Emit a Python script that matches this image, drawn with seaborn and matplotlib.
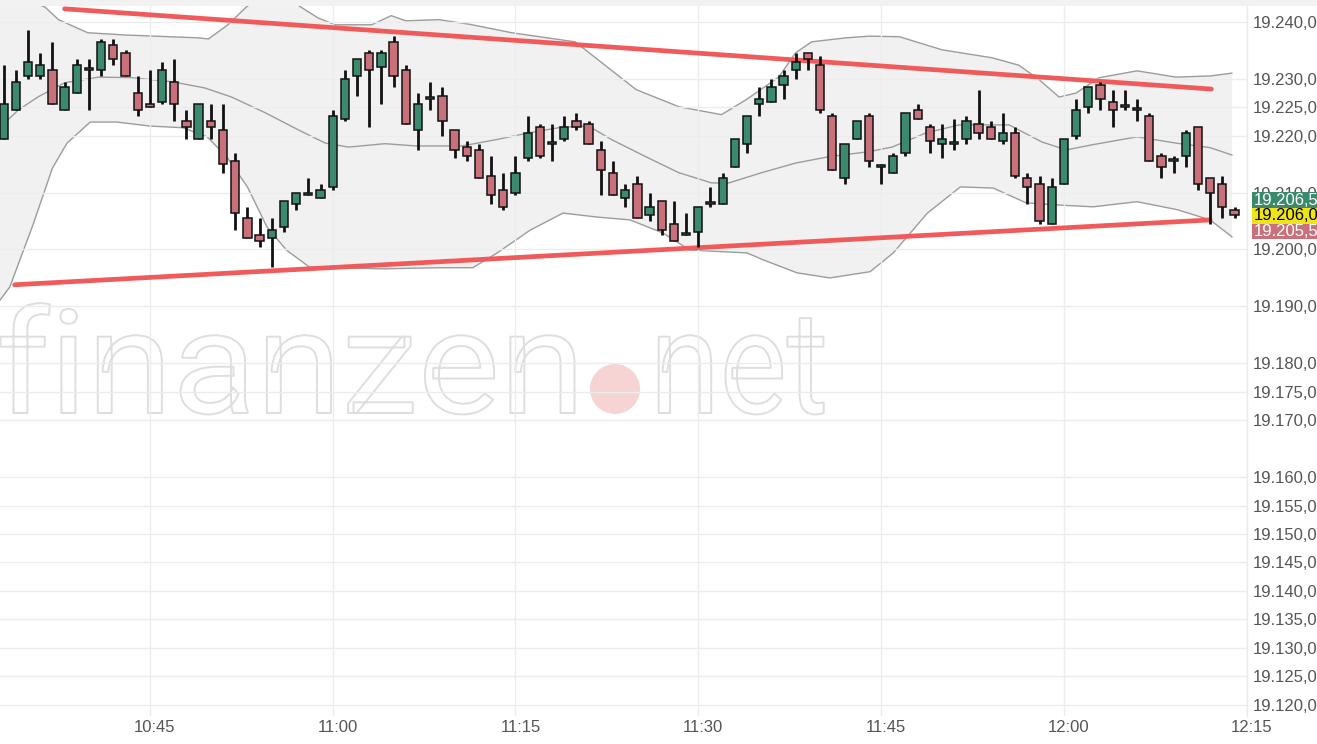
import numpy as np
import matplotlib
matplotlib.use("Agg")
import matplotlib.pyplot as plt
import matplotlib.patheffects as pe
import matplotlib.transforms as mtransforms
from matplotlib.patches import Rectangle, Ellipse
import seaborn as sns

sns.set_theme(style="white")
plt.rcParams["font.family"] = ["Liberation Sans", "DejaVu Sans"]

# 1-minute candles, first bar 10:33, x = minutes after 10:00
FIRST_MINUTE = 33
OPEN = [19219.5, 19224.5, 19230.5, 19230.5, 19231.5, 19224.5, 19227.5, 19231.5, 19231.5, 19236.0,
        19234.5, 19227.5, 19225.5, 19226.0, 19229.5, 19222.5, 19219.5, 19222.5, 19221.0, 19215.5,
        19205.5, 19202.5, 19202.0, 19204.0, 19208.0, 19209.5, 19209.0, 19211.0, 19223.0, 19230.5,
        19234.5, 19232.0, 19236.5, 19231.5, 19221.0, 19226.5, 19227.0, 19221.0, 19218.0, 19217.5,
        19213.0, 19210.5, 19210.0, 19216.0, 19221.5, 19218.5, 19219.5, 19222.5, 19222.0, 19217.5,
        19213.5, 19209.0, 19211.5, 19206.0, 19208.5, 19204.5, 19202.5, 19203.0, 19208.0, 19208.0,
        19214.5, 19218.5, 19225.5, 19226.0, 19229.0, 19231.5, 19234.5, 19232.5, 19223.5, 19212.5,
        19219.5, 19223.5, 19214.5, 19213.5, 19217.0, 19224.5, 19221.5, 19218.5, 19218.5, 19219.5,
        19222.0, 19221.5, 19219.0, 19220.5, 19212.5, 19211.5, 19204.5, 19211.5, 19220.0, 19225.0,
        19229.0, 19226.0, 19225.0, 19224.5, 19223.5, 19216.5, 19215.5, 19216.5, 19221.5, 19212.5,
        19211.5, 19207.0]
HIGH = [19232.5, 19231.5, 19238.5, 19234.5, 19236.5, 19229.5, 19233.5, 19233.5, 19237.0, 19237.0,
        19235.0, 19230.5, 19231.5, 19233.0, 19233.5, 19224.5, 19225.5, 19225.5, 19225.5, 19217.0,
        19207.5, 19205.5, 19205.5, 19208.5, 19210.0, 19212.5, 19211.5, 19224.5, 19231.5, 19233.5,
        19235.0, 19235.0, 19237.5, 19232.5, 19227.5, 19229.5, 19228.5, 19221.0, 19219.0, 19218.5,
        19216.5, 19213.5, 19216.5, 19223.5, 19222.0, 19222.0, 19223.5, 19224.0, 19222.5, 19219.0,
        19215.5, 19211.5, 19213.0, 19210.0, 19208.5, 19208.5, 19206.5, 19207.5, 19211.0, 19213.5,
        19219.5, 19223.5, 19228.5, 19230.0, 19231.5, 19234.5, 19234.5, 19234.0, 19224.0, 19218.5,
        19222.5, 19224.0, 19215.0, 19217.0, 19224.0, 19225.5, 19222.0, 19222.0, 19223.0, 19223.5,
        19228.0, 19222.5, 19224.0, 19221.5, 19213.5, 19213.0, 19212.5, 19219.5, 19226.5, 19228.5,
        19229.5, 19228.0, 19228.0, 19226.5, 19224.0, 19217.0, 19216.5, 19221.0, 19221.5, 19212.5,
        19213.0, 19207.5]
LOW = [19219.5, 19224.5, 19230.0, 19230.0, 19225.5, 19224.5, 19227.5, 19224.5, 19230.5, 19232.5,
       19230.5, 19223.5, 19225.0, 19225.5, 19222.5, 19219.5, 19219.5, 19219.5, 19213.5, 19203.5,
       19202.0, 19200.5, 19197.0, 19203.0, 19207.0, 19209.5, 19209.0, 19210.5, 19222.5, 19227.0,
       19221.5, 19225.5, 19228.5, 19222.0, 19217.5, 19224.5, 19220.0, 19216.0, 19215.5, 19212.5,
       19208.0, 19207.0, 19209.5, 19215.5, 19216.0, 19215.5, 19219.0, 19221.0, 19218.5, 19209.5,
       19209.5, 19207.5, 19205.5, 19205.0, 19202.5, 19201.5, 19202.5, 19200.5, 19207.5, 19208.0,
       19214.5, 19217.0, 19223.5, 19226.0, 19226.5, 19230.0, 19231.5, 19224.0, 19214.0, 19211.5,
       19219.5, 19214.5, 19211.5, 19213.5, 19216.5, 19223.0, 19217.0, 19216.0, 19217.5, 19218.5,
       19219.5, 19219.5, 19218.5, 19212.5, 19208.0, 19204.5, 19204.5, 19211.5, 19219.5, 19224.0,
       19224.5, 19221.5, 19224.5, 19222.5, 19215.5, 19212.5, 19213.5, 19214.5, 19210.5, 19204.5,
       19205.5, 19205.5]
CLOSE = [19225.5, 19229.5, 19233.0, 19232.5, 19225.5, 19228.5, 19232.5, 19231.5, 19236.5, 19233.5,
         19230.5, 19224.5, 19225.0, 19231.5, 19225.5, 19221.5, 19225.5, 19221.5, 19215.0, 19206.5,
         19202.0, 19201.5, 19203.5, 19208.5, 19210.0, 19209.5, 19210.5, 19223.5, 19230.0, 19233.5,
         19231.5, 19234.5, 19230.5, 19222.0, 19225.5, 19226.5, 19222.5, 19217.5, 19216.5, 19212.5,
         19209.5, 19207.5, 19213.5, 19220.5, 19216.5, 19218.5, 19221.5, 19221.5, 19218.5, 19214.0,
         19209.5, 19210.5, 19205.5, 19207.5, 19203.5, 19201.5, 19202.5, 19207.5, 19208.0, 19212.5,
         19219.5, 19223.5, 19226.5, 19228.5, 19230.5, 19233.0, 19233.5, 19224.5, 19214.0, 19218.5,
         19222.5, 19215.5, 19214.5, 19216.5, 19224.0, 19223.0, 19219.0, 19219.5, 19218.5, 19222.5,
         19220.5, 19219.5, 19220.5, 19213.0, 19211.0, 19205.0, 19211.0, 19219.5, 19224.5, 19228.5,
         19226.5, 19224.5, 19225.0, 19224.5, 19215.5, 19214.5, 19215.5, 19220.5, 19211.5, 19210.0,
         19207.5, 19206.0]

# Bollinger bands
UPPER_T = [32.7, 35.0, 36.4, 37.5, 39.9, 43.0, 49.0, 49.8, 51.4, 52.9, 55.1, 57.4, 58.8, 60.2, 63.2,
           64.8, 66.0, 68.7, 71.2, 74.7, 79.9, 82.1, 84.9, 88.4, 91.9, 93.9, 96.6, 98.0, 99.3, 102.1,
           104.0, 106.5, 110.0, 114.1, 116.3, 118.0, 119.6, 121.0, 122.9, 126.0, 129.2, 132.0, 133.8]
UPPER_V = [19245.3, 19243.9, 19242.6, 19240.4, 19238.1, 19237.7, 19237.2, 19237.0, 19239.5, 19242.6,
           19246.0, 19242.6, 19240.7, 19239.5, 19239.5, 19241.1, 19240.2, 19240.4, 19239.6, 19238.1,
           19236.5, 19232.8, 19228.1, 19225.1, 19223.7, 19226.3, 19230.3, 19234.6, 19236.5, 19237.2,
           19237.5, 19237.4, 19235.1, 19233.7, 19232.4, 19229.8, 19226.8, 19227.5, 19230.2, 19231.4,
           19230.3, 19230.5, 19231.0]
MID_T = [32.7, 34.2, 35.8, 38.0, 40.8, 43.5, 46.8, 49.5, 51.7, 54.5, 57.2, 59.4, 61.3, 64.3, 66.8,
         70.6, 73.4, 76.1, 78.8, 81.0, 82.9, 85.7, 88.4, 91.1, 92.5, 95.2, 98.0, 100.7, 104.0, 105.9,
         108.7, 111.4, 115.5, 118.2, 120.2, 122.3, 126.0, 129.2, 132.0, 133.8]
MID_V = [19221.5, 19224.5, 19226.8, 19229.3, 19230.3, 19230.2, 19229.5, 19228.4, 19226.8, 19224.0,
         19221.0, 19218.7, 19218.0, 19218.6, 19218.2, 19218.2, 19219.3, 19220.5, 19221.5, 19221.7,
         19219.3, 19216.3, 19213.5, 19211.7, 19211.7, 19213.5, 19215.2, 19216.3, 19217.2, 19218.0,
         19220.5, 19221.9, 19221.9, 19218.9, 19217.5, 19218.4, 19219.8, 19218.7, 19217.9, 19216.6]
LOWER_T = [32.7, 33.5, 35.4, 37.0, 38.2, 40.1, 42.3, 45.0, 47.7, 49.7, 51.3, 53.0, 54.6, 56.2, 58.1,
           60.0, 64.1, 68.8, 71.5, 73.5, 76.2, 78.9, 81.7, 84.4, 87.1, 89.3, 94.0, 95.3, 98.1, 100.8,
           104.1, 106.0, 108.8, 111.5, 114.2, 116.9, 119.7, 122.4, 126.0, 129.3, 132.0, 133.8]
LOWER_V = [19191.1, 19193.4, 19204.3, 19214.3, 19218.7, 19222.4, 19222.4, 19221.7, 19221.4, 19219.8,
           19216.3, 19211.0, 19204.0, 19199.9, 19196.9, 19196.8, 19196.6, 19196.8, 19196.8, 19199.4,
           19203.4, 19206.4, 19205.7, 19205.2, 19202.9, 19199.9, 19199.4, 19198.2, 19195.9, 19195.0,
           19196.1, 19199.4, 19206.4, 19211.0, 19210.8, 19208.2, 19207.8, 19207.5, 19208.4, 19207.0,
           19205.2, 19202.2]

# hand-drawn trend lines
TREND_UP_T = [38.0, 132.1]
TREND_UP_V = [19242.3, 19228.2]
TREND_LOW_T = [33.9, 132.0]
TREND_LOW_V = [19193.8, 19205.2]

Y_TICKS = [19240, 19230, 19225, 19220, 19210, 19200, 19190, 19180, 19175, 19170,
           19160, 19155, 19150, 19145, 19140, 19135, 19130, 19125, 19120]
X_TICKS = [45, 60, 75, 90, 105, 120, 135]

# last price tags: value, background, text colour
TAG_VALUES = [19206.5, 19206.0, 19205.5]
TAG_COLORS = ["#3c8a6d", "#efe418", "#c9717b"]
TAG_TEXT = ["white", "black", "white"]

GREEN = "#3c8a6d"
RED = "#c9717b"


def de_num(v):
    return f"{v:,.2f}".replace(",", "X").replace(".", ",").replace("X", ".")


class OutlineStretch(pe.AbstractPathEffect):
    """Draws text as a hollow outline, stretched horizontally about its left edge."""

    def __init__(self, sx=1.0, x0=0.0, edge="#dedede", lw=1.4):
        super().__init__()
        self.sx, self.x0, self.edge, self.lw = sx, x0, edge, lw

    def draw_path(self, renderer, gc, tpath, affine, rgbFace):
        stretch = (mtransforms.Affine2D().translate(-self.x0, 0)
                   .scale(self.sx, 1).translate(self.x0, 0))
        gc0 = renderer.new_gc()
        gc0.copy_properties(gc)
        gc0.set_foreground(self.edge)
        gc0.set_linewidth(self.lw)
        renderer.draw_path(gc0, tpath, affine + stretch, (1, 1, 1, 1))
        gc0.restore()


W, H = 1317, 744
fig = plt.figure(figsize=(W / 100, H / 100), dpi=100, facecolor="white")
ax = fig.add_axes([0, 28 / H, 1246.7 / W, (716 - 6) / H])
ax.set_facecolor("none")

x = np.arange(FIRST_MINUTE, FIRST_MINUTE + len(OPEN))
o, h, l, c = map(np.array, (OPEN, HIGH, LOW, CLOSE))

# Bollinger band area + lines
ax.fill(np.r_[UPPER_T, LOWER_T[::-1]], np.r_[UPPER_V, LOWER_V[::-1]],
        color="#f1f1f1", zorder=1, lw=0)
for bt, bv in [(UPPER_T, UPPER_V), (MID_T, MID_V), (LOWER_T, LOWER_V)]:
    sns.lineplot(x=bt, y=bv, ax=ax, color="#9c9c9c", linewidth=1.0, sort=False,
                 estimator=None, zorder=2)

# trend lines
for tt, tv in [(TREND_UP_T, TREND_UP_V), (TREND_LOW_T, TREND_LOW_V)]:
    sns.lineplot(x=tt, y=tv, ax=ax, color="#f05a5b", linewidth=3.4, sort=False,
                 estimator=None, zorder=3, solid_capstyle="round")

# candles
ax.vlines(x, l, h, color="#111111", linewidth=2.0, zorder=4)
body_bottom = np.minimum(o, c)
body_height = np.maximum(np.abs(c - o), 0.35)
body_color = np.where(c >= o, GREEN, RED)
ax.bar(x, body_height, bottom=body_bottom, width=0.68, color=body_color,
       edgecolor="#111111", linewidth=1.1, zorder=5)

ax.set_xlim(32.7, 135)
ax.set_ylim(19118.0, 19242.8)

ax.set_xticks(X_TICKS)
ax.set_xticklabels([f"{10 + m // 60}:{m % 60:02d}" for m in X_TICKS])
ax.set_yticks(Y_TICKS)
ax.set_yticklabels([de_num(v) for v in Y_TICKS])
ax.yaxis.tick_right()
ax.tick_params(axis="both", length=0, labelsize=12, labelcolor="#555555")
ax.tick_params(axis="y", pad=4)
ax.tick_params(axis="x", pad=3)
shift = mtransforms.ScaledTranslation(5 / 100, 0, fig.dpi_scale_trans)
for lbl in ax.get_xticklabels():
    lbl.set_transform(lbl.get_transform() + shift)

ax.grid(True, color="#ececec", linewidth=1.0, zorder=1.5)
ax.set_axisbelow(False)
for sp in ax.spines.values():
    sp.set_visible(False)
ax.axvline(135, color="#ececec", linewidth=1.0, clip_on=False, zorder=1.5)
ax.set_xlabel("")
ax.set_ylabel("")

# price tags stacked around the last price
trans = mtransforms.blended_transform_factory(ax.transAxes, ax.transData)
tag_h = 2.76
centers = [TAG_VALUES[1] - 0.1 + tag_h, TAG_VALUES[1] - 0.1, TAG_VALUES[1] - 0.1 - tag_h]
for val, yc, bg, fg in zip(TAG_VALUES, centers, TAG_COLORS, TAG_TEXT):
    ax.add_patch(Rectangle((1.0043, yc - tag_h / 2), 0.08, tag_h, transform=trans,
                           facecolor=bg, edgecolor="none", clip_on=False, zorder=6))
    ax.text(1.0055, yc, de_num(val), transform=trans, color=fg, fontsize=12,
            va="center", ha="left", clip_on=False, zorder=7)

# watermark: outlined word mark, stretched to the logo's footprint
renderer = fig.canvas.get_renderer()
for word, left, right in [("finanzen", -4, 585), ("net", 650, 828)]:
    t = fig.text(left / W, 1 - 413 / H, word, fontsize=104, family="Roboto",
                 color="white", va="baseline", ha="left", zorder=-1)
    bb = t.get_window_extent(renderer=renderer)
    t.set_path_effects([OutlineStretch(sx=(right - left) / bb.width, x0=bb.x0)])
fig.add_artist(Ellipse((615 / W, 1 - 389 / H), 50 / W, 50 / H, transform=fig.transFigure,
                       facecolor="#f6d4d4", edgecolor="none", zorder=-1))

# thin grey strip at the top
fig.add_artist(Rectangle((0, 1 - 6 / H), 1, 6 / H, transform=fig.transFigure,
                         facecolor="#f2f2f2", edgecolor="none", zorder=10))

fig.savefig("out.png", dpi=100)
